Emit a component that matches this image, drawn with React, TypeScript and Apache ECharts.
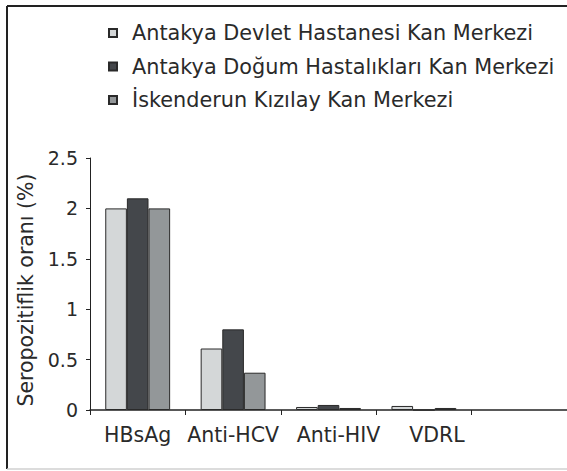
import React, { useEffect, useRef } from "react";
import * as echarts from "echarts";

const categories = ["HBsAg", "Anti-HCV", "Anti-HIV", "VDRL", ""];
const seriesNames = [
  "Antakya Devlet Hastanesi Kan Merkezi",
  "Antakya Doğum Hastalıkları Kan Merkezi",
  "İskenderun Kızılay Kan Merkezi",
];
const devletValues = [2.0, 0.61, 0.03, 0.04, null];
const dogumValues = [2.1, 0.8, 0.05, 0, null];
const kizilayValues = [2.0, 0.37, 0.02, 0.02, null];
const yTicks = [0, 0.5, 1, 1.5, 2, 2.5];
const yAxisName = "Seropozitiflik oranı (%)";

const FONT = "DejaVu Sans";
const colors = ["#d4d7d8", "#44474b", "#939799"];

export default function App() {
  const ref = useRef<HTMLDivElement>(null);
  useEffect(() => {
    if (!ref.current) return;
    const chart = echarts.init(ref.current, undefined, { renderer: "svg" });
    const values = [devletValues, dogumValues, kizilayValues];
    const labelPad: Record<string, number[]> = {
      "Anti-HIV": [0, 0, 0, 20],
      VDRL: [0, 0, 0, 26],
    };
    chart.setOption({
      animation: false,
      textStyle: { fontFamily: FONT },
      legend: {
        orient: "vertical",
        left: 103,
        top: 17,
        itemWidth: 8,
        itemHeight: 8,
        itemGap: 11.5,
        icon: "rect",
        textStyle: {
          fontFamily: FONT,
          fontSize: 20.8,
          lineHeight: 22,
          color: "#2a2a2a",
          padding: [0, 0, 0, 10],
        },
        data: seriesNames,
      },
      grid: { left: 90, right: 0, top: 158, bottom: 61 },
      xAxis: {
        type: "category",
        data: categories.map((c) => ({
          value: c,
          textStyle: labelPad[c] ? { padding: labelPad[c] } : undefined,
        })),
        axisLine: { lineStyle: { color: "#222", width: 1.5 } },
        axisTick: { show: true, length: 5, lineStyle: { color: "#222" }, alignWithLabel: false },
        axisLabel: {
          fontFamily: FONT,
          fontSize: 20.5,
          color: "#2a2a2a",
          margin: 14,
          interval: 0,
        },
      },
      yAxis: {
        type: "value",
        min: yTicks[0],
        max: yTicks[yTicks.length - 1],
        interval: 0.5,
        name: yAxisName,
        nameLocation: "middle",
        nameGap: 44,
        nameTextStyle: { fontFamily: FONT, fontSize: 20.5, color: "#2a2a2a", padding: [0, 12, 0, 0] },
        axisLine: { show: true, lineStyle: { color: "#222", width: 1 } },
        axisTick: { show: true, length: 4, lineStyle: { color: "#222" } },
        splitLine: { show: false },
        axisLabel: {
          fontFamily: FONT,
          fontSize: 19,
          color: "#2a2a2a",
          margin: 12,
          formatter: (v: number) => String(v),
        },
      },
      series: seriesNames.map((name, i) => ({
        name,
        type: "bar",
        data: values[i],
        barGap: "0%",
        barCategoryGap: "32%",
        itemStyle: { color: colors[i], borderColor: "#2a2a2a", borderWidth: 1 },
      })),
      graphic: [
        { type: "line", shape: { x1: 7, y1: 6, x2: 567, y2: 6 }, style: { stroke: "#222", lineWidth: 2 } },
        { type: "line", shape: { x1: 7, y1: 6, x2: 7, y2: 469 }, style: { stroke: "#222", lineWidth: 2 } },
        { type: "line", shape: { x1: 7, y1: 469, x2: 567, y2: 469 }, style: { stroke: "#d0d0d0", lineWidth: 1.5 } },
      ],
    });
    return () => chart.dispose();
  }, []);
  return (
    <div
      ref={ref}
      style={{ position: "absolute", left: 0, top: 0, width: 567, height: 471, background: "#fff" }}
    />
  );
}
